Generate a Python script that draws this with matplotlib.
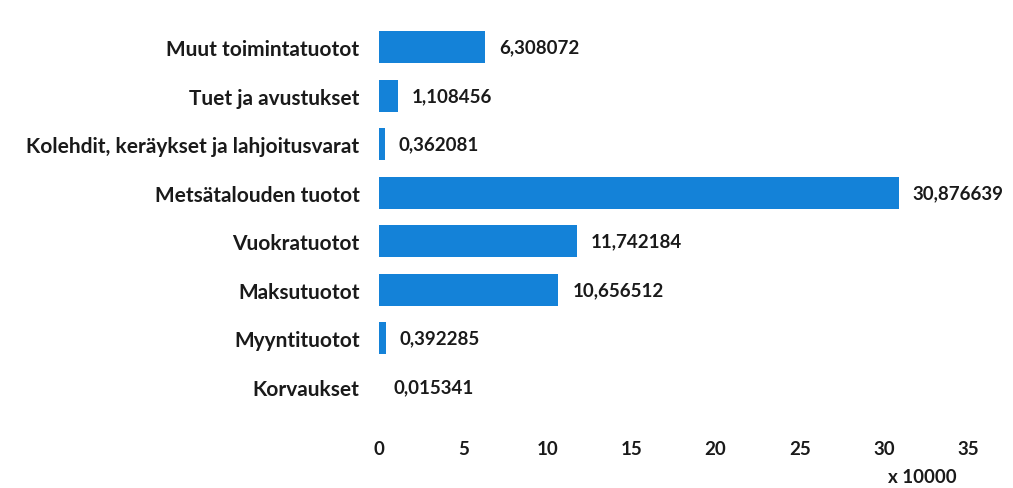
import matplotlib
matplotlib.use("Agg")
import matplotlib.pyplot as plt

categories = ["Muut toimintatuotot", "Tuet ja avustukset",
              "Kolehdit, keräykset ja lahjoitusvarat", "Metsätalouden tuotot",
              "Vuokratuotot", "Maksutuotot", "Myyntituotot", "Korvaukset"]
values = [6.308072, 1.108456, 0.362081, 30.876639, 11.742184, 10.656512, 0.392285, 0.015341]
value_labels = ["6,308072", "1,108456", "0,362081", "30,876639",
                "11,742184", "10,656512", "0,392285", "0,015341"]
xticks = [0, 5, 10, 15, 20, 25, 30, 35]

plt.rcParams['font.family'] = ['Lato', 'DejaVu Sans']
fig = plt.figure(figsize=(10.13, 4.89), dpi=100)
ax = fig.add_axes([379 / 1013, 0.1575, (968 - 379) / 1013, 0.7935])

ypos = list(range(len(categories)))
ax.barh(ypos, values, height=0.66, color='#1482d8')
ax.set_ylim(len(categories) - 0.5, -0.5)
ax.set_xlim(0, 35)
ax.set_yticks(ypos)
ax.set_yticklabels(categories, fontsize=15, fontweight='bold', color='#1a1a1a')
ax.set_xticks(xticks)
ax.set_xticklabels([str(t) for t in xticks], fontsize=13.5, fontweight='bold', color='#1a1a1a')
ax.tick_params(axis='y', length=0, pad=14)
ax.tick_params(axis='x', length=0, pad=21)
for s in ax.spines.values():
    s.set_visible(False)

for y, v, lab in zip(ypos, values, value_labels):
    ax.annotate(lab, (v, y), xytext=(10, 0), textcoords='offset points',
                ha='left', va='center', fontsize=13.5, fontweight='bold', color='#1a1a1a')

fig.text(922 / 1013, 1 - 478 / 489, "x 10000", ha='center', va='center',
         fontsize=13.5, fontweight='bold', color='#1a1a1a')

fig.savefig("out.png", dpi=100, facecolor='white')
